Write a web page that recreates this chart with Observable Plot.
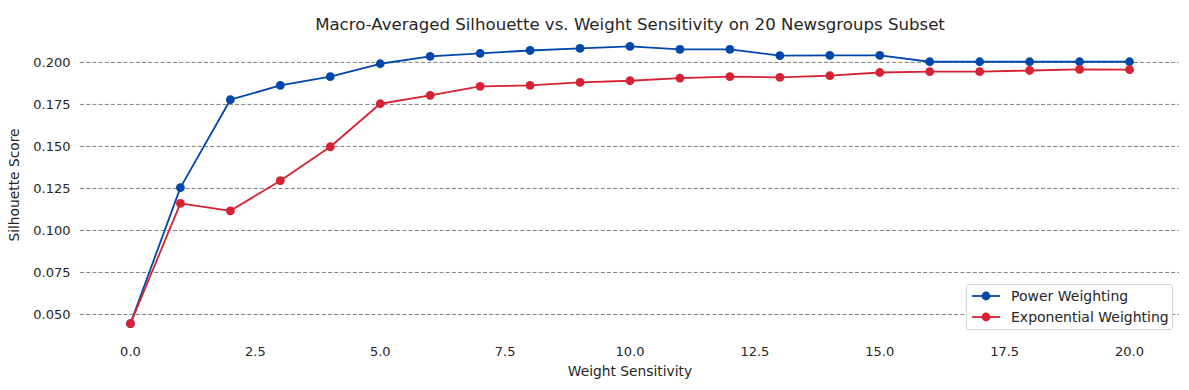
<!DOCTYPE html>
<html>
<head>
<meta charset="utf-8">
<script src="https://cdn.jsdelivr.net/npm/d3@7"></script>
<script src="https://cdn.jsdelivr.net/npm/@observablehq/plot@0.6"></script>
<style>
  body { margin: 0; background: #fff; font-family: "DejaVu Sans", sans-serif; }
  #wrap { position: relative; width: 1189px; height: 390px; }
  #legend { position: absolute; left: 966px; top: 284px; width: 207px; height: 46px;
    border: 1px solid #d6d6d6; border-radius: 3px; background: rgba(255,255,255,0.85);
    font-size: 14px; color: #262626; box-sizing: border-box; padding-top: 0px; }
  .item { display: flex; align-items: center; height: 21px; }
  .item svg { margin-left: 4px; margin-right: 10px; }
</style>
</head>
<body>
<div id="wrap"></div>
<script>
const sensitivity = [0,1,2,3,4,5,6,7,8,9,10,11,12,13,14,15,16,17,18,19,20];
const powerValues = [0.0446,0.1255,0.1778,0.1863,0.1915,0.1992,0.2036,0.2054,0.2071,0.2083,0.2095,0.2077,0.2077,0.2040,0.2042,0.2042,0.2004,0.2004,0.2004,0.2004,0.2004];
const expValues   = [0.0446,0.1161,0.1117,0.1296,0.1498,0.1754,0.1804,0.1857,0.1863,0.1881,0.1891,0.1907,0.1915,0.1911,0.1921,0.1940,0.1945,0.1945,0.1952,0.1958,0.1957];
const seriesNames = ["Power Weighting", "Exponential Weighting"];
const seriesColors = ["#0047ab", "#d62232"];
const xTicks = [0, 2.5, 5, 7.5, 10, 12.5, 15, 17.5, 20];
const yTicks = [0.050, 0.075, 0.100, 0.125, 0.150, 0.175, 0.200];
const titleText = "Macro-Averaged Silhouette vs. Weight Sensitivity on 20 Newsgroups Subset";
const xLabel = "Weight Sensitivity";
const yLabel = "Silhouette Score";

const data = [];
[powerValues, expValues].forEach((vals, i) => {
  vals.forEach((v, j) => data.push({x: sensitivity[j], y: v, s: seriesNames[i]}));
});
const power = data.filter(d => d.s === seriesNames[0]);
const expo = data.filter(d => d.s === seriesNames[1]);

const chart = Plot.plot({
  width: 1189,
  height: 390,
  marginLeft: 80,
  marginRight: 10,
  marginTop: 32,
  marginBottom: 53,
  style: {fontFamily: "DejaVu Sans, sans-serif", fontSize: "13px", color: "#262626", background: "#fff"},
  x: {domain: [-1, 21]},
  y: {domain: [0.0363, 0.2178]},
  color: {domain: seriesNames, range: seriesColors},
  marks: [
    Plot.gridY(yTicks, {stroke: "#808080", strokeOpacity: 1, strokeWidth: 1, strokeDasharray: "4,2.2"}),
    Plot.axisX({ticks: xTicks, tickSize: 0, tickPadding: 9, tickFormat: d3.format(".1f"), fontSize: 13, label: null}),
    Plot.axisX({ticks: [], tickSize: 0, fontSize: 13.8,
      label: xLabel, labelAnchor: "center", labelArrow: "none", labelOffset: 38}),
    Plot.axisY({ticks: yTicks, tickSize: 0, tickPadding: 10, tickFormat: d3.format(".3f"), fontSize: 13, label: null}),
    Plot.axisY({ticks: [], tickSize: 0, fontSize: 13.8,
      label: yLabel, labelAnchor: "center", labelArrow: "none", labelOffset: 71}),
    Plot.line(power, {x: "x", y: "y", stroke: "s", strokeWidth: 1.8}),
    Plot.dot(power, {x: "x", y: "y", fill: "s", r: 4.4}),
    Plot.line(expo, {x: "x", y: "y", stroke: "s", strokeWidth: 1.8}),
    Plot.dot(expo, {x: "x", y: "y", fill: "s", r: 4.4}),
    Plot.text([titleText], {frameAnchor: "top", dy: -14, text: d => d, fontSize: 16.6, fill: "#262626"})
  ]
});

const wrap = document.getElementById("wrap");
wrap.appendChild(chart);

const legend = document.createElement("div");
legend.id = "legend";
seriesNames.forEach((name, i) => {
  const item = document.createElement("div");
  item.className = "item";
  item.innerHTML = `<svg width="30" height="12"><line x1="1" x2="29" y1="6" y2="6" stroke="${seriesColors[i]}" stroke-width="1.8"/><circle cx="15" cy="6" r="4.4" fill="${seriesColors[i]}"/></svg><span>${name}</span>`;
  legend.appendChild(item);
});
wrap.appendChild(legend);
</script>
</body>
</html>
